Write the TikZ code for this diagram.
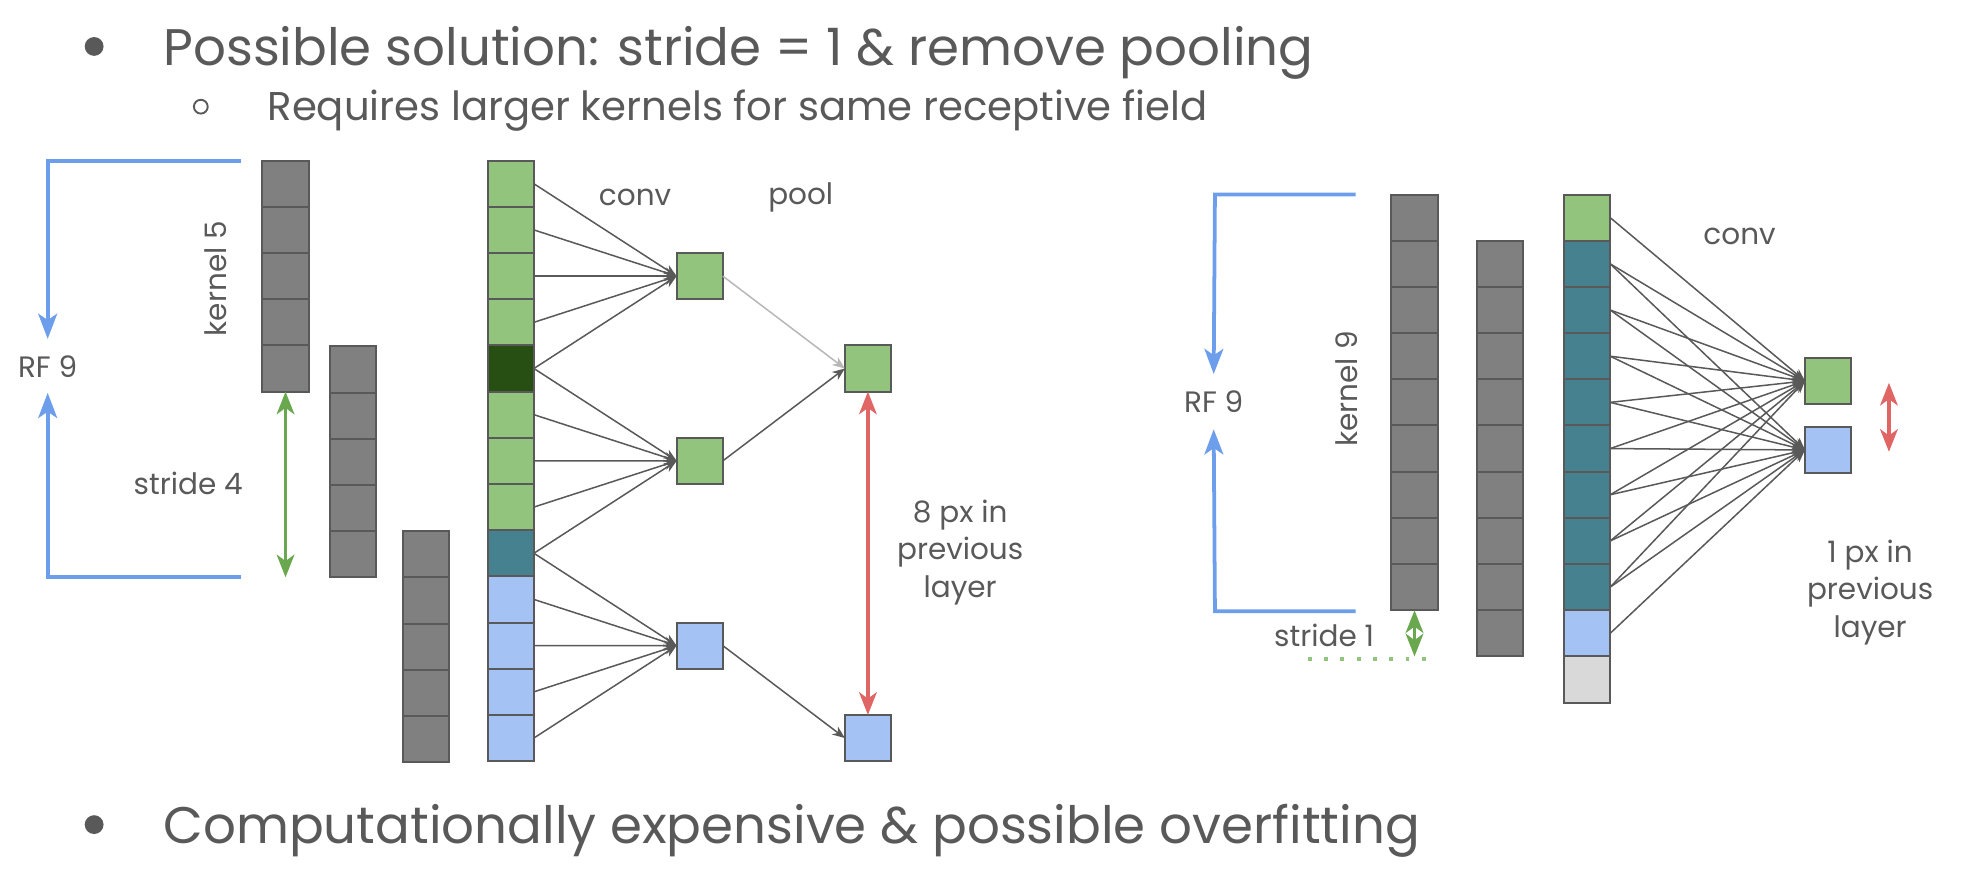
\documentclass[tikz,border=0pt]{standalone}
\usepackage{fontspec}
\setmainfont{Poppins}
\usetikzlibrary{arrows.meta}
\definecolor{txt}{HTML}{595959}
\definecolor{edge}{HTML}{595959}
\definecolor{graycell}{HTML}{808080}
\definecolor{lgreen}{HTML}{93C47D}
\definecolor{dgreen}{HTML}{274E13}
\definecolor{tealc}{HTML}{45818E}
\definecolor{lblue}{HTML}{A4C2F4}
\definecolor{lgray}{HTML}{D9D9D9}
\definecolor{bracketblue}{HTML}{6D9EEB}
\definecolor{arrgreen}{HTML}{6AA84F}
\definecolor{arrred}{HTML}{E06666}
\definecolor{poolgray}{HTML}{B7B7B7}
\tikzset{
  cell/.style={draw=edge, line width=1.6pt, minimum width=36.8pt, minimum height=36.8pt, inner sep=0pt, outer sep=0pt},
  conn/.style={draw=edge, line width=1.2pt, -{Stealth[length=10pt,width=8pt]}},
  lbl/.style={text=txt, font=\fontsize{23.5}{30}\selectfont, inner sep=0pt, align=center},
  bigtxt/.style={text=txt, font=\fontsize{41}{48}\selectfont, inner sep=0pt, anchor=base west},
  subtxt/.style={text=txt, font=\fontsize{32}{38}\selectfont, inner sep=0pt, anchor=base west},
  bracket/.style={draw=bracketblue, line width=3pt},
  bracketarrow/.style={bracket, -{Stealth[length=20pt,width=15pt,inset=5pt]}},
  greenarrow/.style={draw=arrgreen, line width=3pt, {Stealth[length=18pt,width=14pt,inset=5pt]}-{Stealth[length=18pt,width=14pt,inset=5pt]}},
  redarrow/.style={draw=arrred, line width=3pt, {Stealth[length=18pt,width=14pt,inset=5pt]}-{Stealth[length=18pt,width=14pt,inset=5pt]}},
}
\begin{document}
\begin{tikzpicture}[x=1pt,y=-1pt]
\useasboundingbox (0,0) rectangle (1568,696);

% ---------- text bullets ----------
\node[circle, fill=txt, minimum size=15pt, inner sep=0pt] (b1) at (75,37) {};
\node[bigtxt] (t1) at (130,52) {Possible solution: stride = 1 \& remove pooling};
\node[circle, draw=txt, line width=1.5pt, minimum size=11pt, inner sep=0pt] (b2) at (160,85) {};
\node[subtxt] (t2) at (213,96) {Requires larger kernels for same receptive field};
\node[circle, fill=txt, minimum size=15pt, inner sep=0pt] (b3) at (75,657) {};
\node[bigtxt] (t3) at (130,672) {Computationally expensive \& possible overfitting};

% ---------- left diagram ----------
\foreach \i in {0,...,4} {
  \node[cell, fill=graycell] (ca\i) at (227.5,{146.4+36.8*\i}) {};
  \node[cell, fill=graycell] (cb\i) at (281.5,{294.4+36.8*\i}) {};
  \node[cell, fill=graycell] (cc\i) at (339.5,{441.6+36.8*\i}) {};
}
\foreach \c [count=\k from 0] in {lgreen,lgreen,lgreen,lgreen,dgreen,lgreen,lgreen,lgreen,tealc,lblue,lblue,lblue,lblue} {
  \node[cell, fill=\c] (L\k) at (407,{146.4+36.8*\k}) {};
}
\node[cell, fill=lgreen] (o1) at (557.5,220) {};
\node[cell, fill=lgreen] (o2) at (557.5,367.2) {};
\node[cell, fill=lblue]  (o3) at (557.5,514.4) {};
\node[cell, fill=lgreen] (p1) at (691.5,293.6) {};
\node[cell, fill=lblue]  (p2) at (691.5,588) {};

\foreach \i in {0,...,4} \draw[conn] (L\i.east) -- (o1.west);
\foreach \i in {4,...,8} \draw[conn] (L\i.east) -- (o2.west);
\foreach \i in {8,...,12} \draw[conn] (L\i.east) -- (o3.west);
\draw[conn, draw=poolgray] (o1.east) -- (p1.west);
\draw[conn] (o2.east) -- (p1.west);
\draw[conn] (o3.east) -- (p2.west);

\node[lbl] (conv1) at (506,157) {conv};
\node[lbl] (pool1) at (638,157) {pool};
\node[lbl, rotate=90] (k5) at (172,222) {kernel 5};
\node[lbl] (s4) at (150,385) {stride 4};
\node[lbl] (rf1) at (38,292) {RF 9};

\coordinate (brA) at (192,128);
\coordinate (brB) at (38,128);
\coordinate (brC) at (38,460);
\coordinate (brD) at (192,460);
\draw[bracketarrow] (brA) -- (brB) -- (rf1.north |- 0,270);
\draw[bracketarrow] (brD) -- (brC) -- (rf1.south |- 0,313);

\draw[greenarrow] (ca4.south) -- (cb4.south -| ca4.south);
\draw[redarrow] (p1.south) -- (p2.north);
\node[lbl] (px8) at (765,440) {8 px in\\previous\\layer};

% ---------- right diagram ----------
\foreach \i in {0,...,8} {
  \node[cell, fill=graycell] (ra\i) at (1127,{173.4+36.8*\i}) {};
  \node[cell, fill=graycell] (rb\i) at (1195,{210.2+36.8*\i}) {};
}
\foreach \c [count=\k from 0] in {lgreen,tealc,tealc,tealc,tealc,tealc,tealc,tealc,tealc,lblue,lgray} {
  \node[cell, fill=\c] (R\k) at (1264.5,{173.4+36.8*\k}) {};
}
\node[cell, fill=lgreen] (og) at (1456.5,303.5) {};
\node[cell, fill=lblue]  (ob) at (1456.5,358.5) {};
\foreach \i in {0,...,8} \draw[conn] (R\i.east) -- (og.west);
\foreach \i in {1,...,9} \draw[conn] (R\i.east) -- (ob.west);

\node[lbl] (conv2) at (1386,188) {conv};
\node[lbl, rotate=90] (k9) at (1073,310) {kernel 9};
\node[lbl] (s1) at (1055,506) {stride 1};
\node[lbl] (rf2) at (967,320) {RF 9};

\coordinate (brE) at (1080,155);
\coordinate (brF) at (968,155);
\coordinate (brG) at (968,487);
\coordinate (brH) at (1080,487);
\draw[bracketarrow] (brE) -- (brF) -- (rf2.north |- 0,298);
\draw[bracketarrow] (brH) -- (brG) -- (rf2.south |- 0,342);

\coordinate (dotL) at (1042,525);
\coordinate (dotR) at (1140,525);
\draw[draw=lgreen, line width=3pt, dash pattern=on 3pt off 10pt] (dotL) -- (dotR);
\draw[greenarrow] (ra8.south) -- (rb8.south -| ra8.south);

\coordinate (rtop) at (1505,305);
\coordinate (rbot) at (1505,360);
\draw[redarrow] (rtop) -- (rbot);
\node[lbl] (px1) at (1490,472) {1 px in\\previous\\layer};
\end{tikzpicture}
\end{document}
